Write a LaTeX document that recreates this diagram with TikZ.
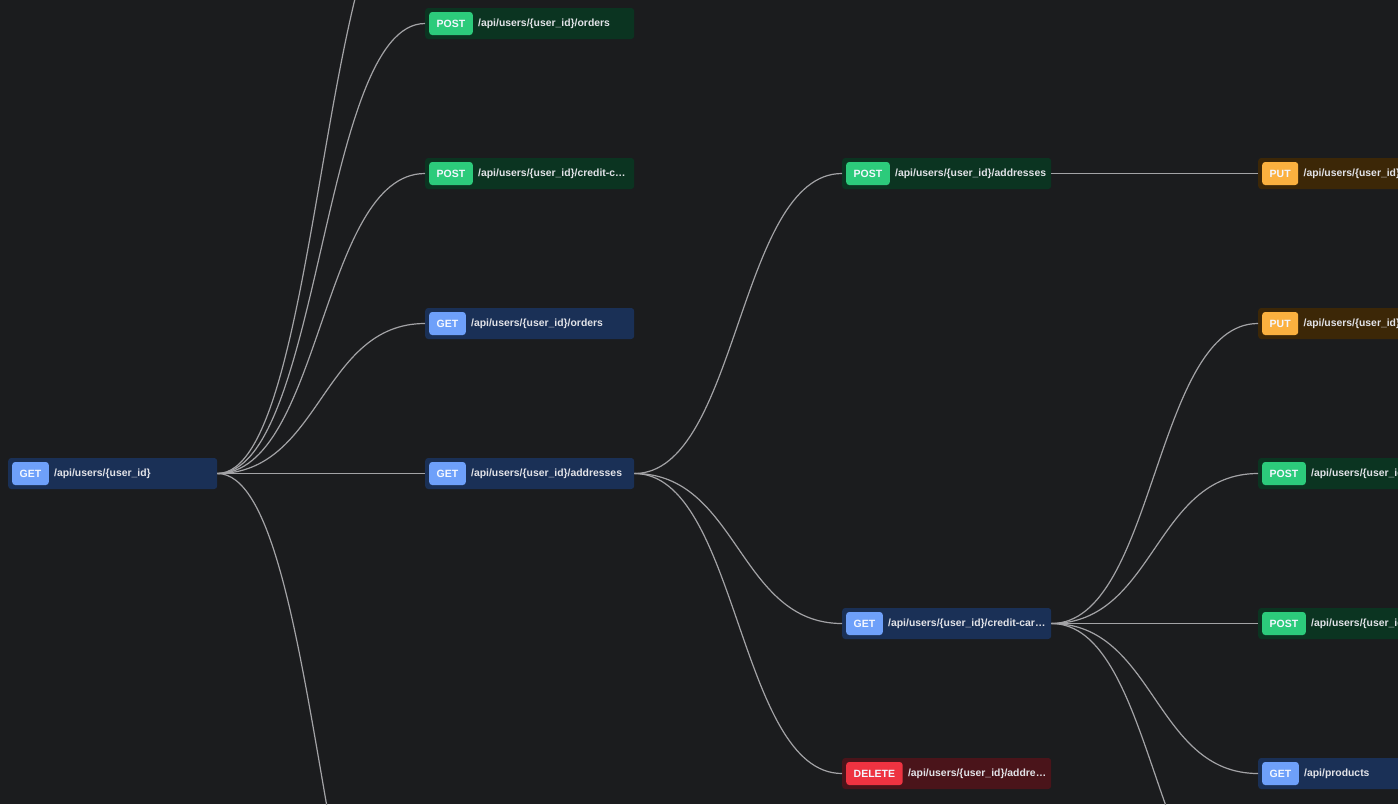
\documentclass[tikz,border=0pt]{standalone}
\usepackage{fontspec}
\setmainfont{Liberation Sans}
\usetikzlibrary{positioning}

\definecolor{canvas}{HTML}{1B1C1E}
\definecolor{wirecol}{HTML}{A3A3A6}
\definecolor{urltxt}{HTML}{E2E3E8}
\definecolor{badgetxt}{HTML}{F4F7FF}
\definecolor{getbox}{HTML}{1A3056}
\definecolor{getbadge}{HTML}{6EA0FA}
\definecolor{postbox}{HTML}{0B3421}
\definecolor{postbadge}{HTML}{2CCB7B}
\definecolor{putbox}{HTML}{3C2707}
\definecolor{putbadge}{HTML}{FBB13F}
\definecolor{delbox}{HTML}{4A141A}
\definecolor{delbadge}{HTML}{EE3341}

\begin{document}
\begin{tikzpicture}[x=1pt,y=-1pt,
    box/.style={anchor=west,minimum width=209pt,minimum height=31pt,inner sep=0pt,rounded corners=3pt},
    badge/.style={anchor=west,minimum height=23pt,inner xsep=7.5pt,inner ysep=0pt,rounded corners=3pt,
        text=badgetxt,font=\fontsize{10.5}{11}\selectfont\bfseries},
    url/.style={anchor=west,inner sep=0pt,text=urltxt,font=\fontsize{10.4}{11}\selectfont\bfseries},
    wire/.style={draw=wirecol,line width=1.2pt,
        to path={.. controls ([xshift=104pt]\tikztostart) and ([xshift=-104pt]\tikztotarget) .. (\tikztotarget)}}]

    \useasboundingbox (0,0) rectangle (1398,804);
    \clip (0,0) rectangle (1398,804);
    \fill[canvas] (0,0) rectangle (1398,804);

    % column 1
    \node[box,fill=getbox] (user) at (8,473.5) {};
    \node[badge,fill=getbadge,right=4pt of user.west] (user-m) {GET};
    \node[url,right=5pt of user-m] (user-t) {/api/users/\{user\_id\}};

    % column 2
    \node[box,fill=postbox] (postorders) at (425,23.5) {};
    \node[badge,fill=postbadge,right=4pt of postorders.west] (postorders-m) {POST};
    \node[url,right=5pt of postorders-m] (postorders-t) {/api/users/\{user\_id\}/orders};

    \node[box,fill=postbox] (postcards) at (425,173.5) {};
    \node[badge,fill=postbadge,right=4pt of postcards.west] (postcards-m) {POST};
    \node[url,right=5pt of postcards-m] (postcards-t) {/api/users/\{user\_id\}/credit-c…};

    \node[box,fill=getbox] (getorders) at (425,323.5) {};
    \node[badge,fill=getbadge,right=4pt of getorders.west] (getorders-m) {GET};
    \node[url,right=5pt of getorders-m] (getorders-t) {/api/users/\{user\_id\}/orders};

    \node[box,fill=getbox] (getaddr) at (425,473.5) {};
    \node[badge,fill=getbadge,right=4pt of getaddr.west] (getaddr-m) {GET};
    \node[url,right=5pt of getaddr-m] (getaddr-t) {/api/users/\{user\_id\}/addresses};

    % column 3
    \node[box,fill=postbox] (postaddr) at (842,173.5) {};
    \node[badge,fill=postbadge,right=4pt of postaddr.west] (postaddr-m) {POST};
    \node[url,right=5pt of postaddr-m] (postaddr-t) {/api/users/\{user\_id\}/addresses};

    \node[box,fill=getbox] (getcards) at (842,623.5) {};
    \node[badge,fill=getbadge,right=4pt of getcards.west] (getcards-m) {GET};
    \node[url,right=5pt of getcards-m] (getcards-t) {/api/users/\{user\_id\}/credit-car…};

    \node[box,fill=delbox] (deladdr) at (842,773.5) {};
    \node[badge,fill=delbadge,right=4pt of deladdr.west] (deladdr-m) {DELETE};
    \node[url,right=5pt of deladdr-m] (deladdr-t) {/api/users/\{user\_id\}/addre…};

    % column 4 (cut by the right edge)
    \node[box,fill=putbox] (putaddr) at (1258,173.5) {};
    \node[badge,fill=putbadge,right=4pt of putaddr.west] (putaddr-m) {PUT};
    \node[url,right=5pt of putaddr-m] (putaddr-t) {/api/users/\{user\_id\}/…};

    \node[box,fill=putbox] (putcards) at (1258,323.5) {};
    \node[badge,fill=putbadge,right=4pt of putcards.west] (putcards-m) {PUT};
    \node[url,right=5pt of putcards-m] (putcards-t) {/api/users/\{user\_id\}/…};

    \node[box,fill=postbox] (postpay) at (1258,473.5) {};
    \node[badge,fill=postbadge,right=4pt of postpay.west] (postpay-m) {POST};
    \node[url,right=5pt of postpay-m] (postpay-t) {/api/users/\{user\_id\}/…};

    \node[box,fill=postbox] (postcheck) at (1258,623.5) {};
    \node[badge,fill=postbadge,right=4pt of postcheck.west] (postcheck-m) {POST};
    \node[url,right=5pt of postcheck-m] (postcheck-t) {/api/users/\{user\_id\}/…};

    \node[box,fill=getbox] (products) at (1258,773.5) {};
    \node[badge,fill=getbadge,right=4pt of products.west] (products-m) {GET};
    \node[url,right=5pt of products-m] (products-t) {/api/products};

    % ends of edges that leave the picture
    \coordinate (offtop) at (425,-126.5);
    \coordinate (offbottom) at (425,1073.5);
    \coordinate (offcards) at (1258,923.5);

    \draw[wire] (user.east) to (offtop);
    \draw[wire] (user.east) to (postorders.west);
    \draw[wire] (user.east) to (postcards.west);
    \draw[wire] (user.east) to (getorders.west);
    \draw[wire] (user.east) to (getaddr.west);
    \draw[wire] (user.east) to (offbottom);

    \draw[wire] (getaddr.east) to (postaddr.west);
    \draw[wire] (getaddr.east) to (getcards.west);
    \draw[wire] (getaddr.east) to (deladdr.west);

    \draw[wire] (postaddr.east) to (putaddr.west);

    \draw[wire] (getcards.east) to (putcards.west);
    \draw[wire] (getcards.east) to (postpay.west);
    \draw[wire] (getcards.east) to (postcheck.west);
    \draw[wire] (getcards.east) to (products.west);
    \draw[wire] (getcards.east) to (offcards);

\end{tikzpicture}
\end{document}
